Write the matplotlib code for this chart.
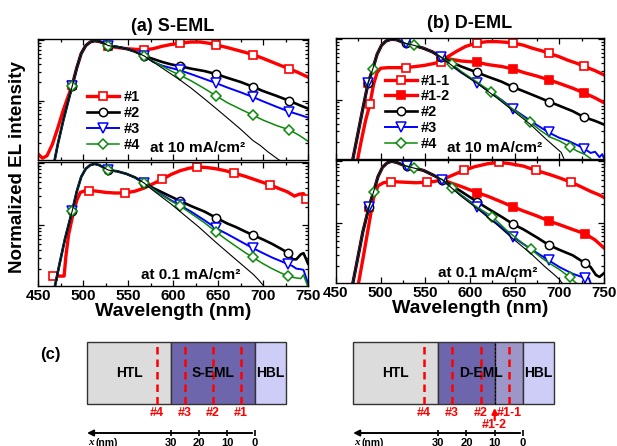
import matplotlib
matplotlib.use('Agg')
import matplotlib.pyplot as plt
from matplotlib.patches import Rectangle
from matplotlib.ticker import MultipleLocator, LogLocator, NullFormatter
import numpy as np

plt.rcParams['font.family'] = ['Liberation Sans', 'DejaVu Sans']
plt.rcParams['font.weight'] = 'bold'

# ---- spectra (log10 of normalized EL) ----
# (a) S-EML, 10 mA/cm2 : shared rising edge + tails
rise_a10_wl = [468, 472, 478, 483, 488, 493, 498, 503, 508, 513, 518, 523, 528, 538, 548, 558, 568]
rise_a10 = [-2.02, -1.72, -1.33, -1.04, -0.76, -0.46, -0.22, -0.09, -0.03, -0.01, -0.02, -0.05, -0.09, -0.11, -0.14, -0.19, -0.26]
a10_s1_wl = [450, 455, 460, 466, 472, 478, 483, 488, 493, 498, 503, 508, 513, 518, 523, 528, 538, 548, 558, 568,
             578, 588, 598, 608, 620, 630, 640, 648, 660, 670, 680, 689, 700, 710, 720, 729, 740, 750]
a10_s1 = [-1.88, -1.95, -1.91, -1.72, -1.45, -1.16, -0.95, -0.74, -0.46, -0.22, -0.09, -0.03, -0.01, -0.02, -0.05, -0.10,
          -0.12, -0.14, -0.15, -0.16, -0.14, -0.10, -0.07, -0.05, -0.03, -0.03, -0.05, -0.08, -0.12, -0.16, -0.20, -0.24,
          -0.30, -0.36, -0.42, -0.47, -0.54, -0.61]
tail_a10_wl = [578, 588, 598, 608, 620, 635, 648, 660, 675, 689, 700, 715, 729, 740, 750]
a10_s2 = [-0.31, -0.36, -0.40, -0.43, -0.47, -0.51, -0.56, -0.62, -0.69, -0.77, -0.84, -0.92, -1.00, -1.07, -1.13]
a10_s3 = [-0.36, -0.42, -0.46, -0.50, -0.56, -0.64, -0.71, -0.78, -0.86, -0.94, -1.01, -1.10, -1.18, -1.23, -1.28]
a10_s4 = [-0.35, -0.43, -0.51, -0.58, -0.67, -0.80, -0.92, -1.03, -1.14, -1.24, -1.32, -1.41, -1.48, -1.57, -1.67]
a10_ref_wl = [578, 588, 598, 608, 620, 635, 648, 660, 675, 689, 697, 705, 716, 722]
a10_ref = [-0.36, -0.46, -0.56, -0.66, -0.79, -0.97, -1.13, -1.28, -1.47, -1.66, -1.74, -1.84, -1.96, -2.02]

# (a) S-EML, 0.1 mA/cm2
rise_a01_wl = [469, 474, 480, 488, 493, 498, 503, 508, 513, 518, 523, 528, 538, 548, 558, 568]
rise_a01 = [-1.97, -1.62, -1.22, -0.77, -0.46, -0.22, -0.09, -0.03, -0.01, -0.03, -0.07, -0.11, -0.13, -0.17, -0.23, -0.32]
a01_s1_wl = [467, 472, 479, 481, 484, 488, 493, 497, 503, 507, 515, 525, 535, 547, 558, 568, 578, 588, 598, 608,
             618, 627, 638, 648, 658, 668, 680, 690, 700, 708, 718, 727, 735, 740, 745, 748, 750]
a01_s1 = [-1.82, -1.82, -1.82, -1.50, -1.15, -0.88, -0.60, -0.47, -0.44, -0.44, -0.45, -0.47, -0.48, -0.48, -0.45, -0.40,
          -0.33, -0.26, -0.18, -0.12, -0.08, -0.06, -0.07, -0.09, -0.12, -0.16, -0.21, -0.26, -0.31, -0.35, -0.41, -0.46,
          -0.53, -0.50, -0.49, -0.58, -0.58]
tail_a01_wl = [578, 588, 598, 608, 620, 635, 648, 660, 670, 680, 689, 700, 710, 720, 728, 733, 737, 742, 745, 748, 750]
a01_s2 = [-0.40, -0.47, -0.54, -0.61, -0.69, -0.78, -0.88, -0.97, -1.03, -1.10, -1.16, -1.23, -1.30, -1.38, -1.45,
          -1.55, -1.55, -1.47, -1.45, -1.55, -1.62]
a01_s3 = [-0.42, -0.51, -0.60, -0.68, -0.78, -0.92, -1.05, -1.14, -1.22, -1.30, -1.37, -1.45, -1.52, -1.58, -1.63,
          -1.66, -1.70, -1.71, -1.72, -1.85, -1.94]
a01_s4 = [-0.42, -0.52, -0.61, -0.69, -0.81, -0.96, -1.11, -1.24, -1.34, -1.44, -1.52, -1.62, -1.70, -1.77, -1.82,
          -1.84, -1.85, -1.86, -1.80, -1.92, -2.00]
a01_ref_wl = [578, 588, 598, 608, 628, 648, 668, 689, 695, 702]
a01_ref = [-0.44, -0.55, -0.66, -0.78, -1.02, -1.28, -1.53, -1.79, -1.88, -2.00]

# (b) D-EML, 10 mA/cm2
rise_b10_wl = [469, 474, 480, 486, 491, 496, 501, 506, 512, 518, 523, 528, 537, 548, 558, 567]
rise_b10 = [-1.97, -1.60, -1.15, -0.72, -0.50, -0.25, -0.10, -0.03, 0.0, -0.01, -0.04, -0.07, -0.10, -0.15, -0.21, -0.29]
b10_s11_wl = [474, 478, 483, 488, 492, 496, 500, 508, 518, 528, 540, 550, 560, 567, 575, 585, 595, 608, 620, 630,
              640, 648, 660, 670, 680, 688, 700, 710, 720, 728, 740, 750]
b10_s11 = [-2.00, -1.70, -1.35, -1.07, -0.75, -0.55, -0.48, -0.47, -0.47, -0.47, -0.45, -0.43, -0.40, -0.37, -0.29,
           -0.20, -0.12, -0.06, -0.04, -0.04, -0.05, -0.06, -0.10, -0.15, -0.19, -0.23, -0.29, -0.35, -0.40, -0.45,
           -0.52, -0.59]
tail_b10_wl = [578, 590, 608, 620, 635, 648, 660, 675, 688, 700, 715, 728, 740, 750]
b10_s12 = [-0.33, -0.36, -0.38, -0.42, -0.45, -0.49, -0.55, -0.61, -0.67, -0.73, -0.81, -0.89, -0.97, -1.05]
b10_s2 = [-0.37, -0.45, -0.55, -0.62, -0.70, -0.79, -0.86, -0.95, -1.03, -1.10, -1.19, -1.29, -1.35, -1.41]
b10_s3_wl = [578, 590, 608, 620, 635, 648, 660, 675, 688, 700, 710, 720, 728, 735, 740, 745, 748, 750]
b10_s3 = [-0.42, -0.55, -0.72, -0.85, -1.00, -1.15, -1.27, -1.42, -1.54, -1.63, -1.68, -1.75, -1.81, -1.88, -1.86,
          -1.95, -1.90, -1.97]
b10_s4_wl = [580, 590, 605, 624, 640, 655, 667, 680, 690, 700, 712, 720, 728, 735]
b10_s4 = [-0.41, -0.53, -0.68, -0.87, -1.07, -1.23, -1.37, -1.52, -1.62, -1.68, -1.78, -1.85, -1.90, -1.97]
b10_ref_wl = [590, 608, 630, 648, 667, 685, 695, 702, 705]
b10_ref = [-0.55, -0.73, -0.97, -1.18, -1.40, -1.65, -1.78, -1.87, -1.97]

# (b) D-EML, 0.1 mA/cm2
rise_b01_wl = [469, 474, 480, 487, 492, 497, 502, 507, 512, 518, 523, 529, 537, 548, 558, 569]
rise_b01 = [-1.97, -1.60, -1.15, -0.74, -0.50, -0.25, -0.10, -0.03, 0.0, -0.02, -0.05, -0.08, -0.11, -0.15, -0.22, -0.30]
b01_s11_wl = [475, 480, 486, 492, 497, 503, 512, 525, 540, 552, 560, 569, 580, 593, 605, 620, 633, 645, 660, 674,
              690, 700, 713, 725, 735, 745, 750]
b01_s11 = [-2.00, -1.60, -1.10, -0.60, -0.40, -0.35, -0.33, -0.34, -0.35, -0.34, -0.33, -0.30, -0.23, -0.15, -0.09,
           -0.04, -0.02, -0.04, -0.08, -0.15, -0.22, -0.27, -0.34, -0.42, -0.49, -0.55, -0.59]
tail_b01_wl = [580, 590, 608, 620, 635, 648, 660, 675, 688, 700, 715, 729, 740, 750]
b01_s12 = [-0.36, -0.41, -0.51, -0.57, -0.66, -0.74, -0.81, -0.89, -0.97, -1.03, -1.11, -1.18, -1.28, -1.41]
b01_s2_wl = [580, 590, 608, 620, 635, 648, 660, 675, 688, 700, 715, 729, 735, 741, 745, 750]
b01_s2 = [-0.40, -0.49, -0.66, -0.77, -0.90, -1.02, -1.11, -1.24, -1.36, -1.44, -1.53, -1.66, -1.72, -1.85, -1.88, -1.82]
b01_s3_wl = [580, 590, 608, 620, 635, 648, 660, 675, 688, 700, 715, 729, 733, 736]
b01_s3 = [-0.44, -0.55, -0.74, -0.90, -1.07, -1.23, -1.35, -1.49, -1.61, -1.72, -1.83, -1.90, -1.90, -2.02]
b01_s4_wl = [580, 590, 605, 625, 640, 655, 668, 680, 690, 700, 712, 718, 722]
b01_s4 = [-0.43, -0.55, -0.72, -0.90, -1.11, -1.29, -1.43, -1.57, -1.67, -1.76, -1.89, -1.97, -2.02]
b01_ref_wl = [590, 608, 630, 648, 668, 685, 694, 700, 705]
b01_ref = [-0.57, -0.77, -1.03, -1.26, -1.50, -1.73, -1.84, -1.92, -2.02]

# ---- device structure (nm from HBL interface) ----
htl_nm = 30
eml_nm = 30
hbl_nm = 11
s_probe_x = [35, 25, 15, 5]
s_probe_lab = ['#4', '#3', '#2', '#1']
d_probe_x = [35, 25, 15, 5]
d_probe_lab = ['#4', '#3', '#2', '#1-1']
d_split_x = 10
axis_ticks = [30, 20, 10, 0]

RED, BLK, BLU, GRN = '#ff0000', '#000000', '#0000ff', '#0a8a0a'
sty = {
    '#1': dict(color=RED, lw=2.4, marker='s', mfc='white', mec=RED, ms=6, mew=1.2),
    '#1-1': dict(color=RED, lw=2.4, marker='s', mfc='white', mec=RED, ms=6, mew=1.2),
    '#1-2': dict(color=RED, lw=2.4, marker='s', mfc=RED, mec=RED, ms=6, mew=1.2),
    '#2': dict(color=BLK, lw=1.9, marker='o', mfc='white', mec=BLK, ms=6, mew=1.1),
    '#3': dict(color=BLU, lw=1.4, marker='v', mfc='white', mec=BLU, ms=7, mew=1.1),
    '#4': dict(color=GRN, lw=1.1, marker='D', mfc='white', mec=GRN, ms=5.5, mew=1.1),
}


def draw(ax, wl, val, name, marks):
    wl = np.asarray(wl)
    idx = [int(np.where(wl == m)[0][0]) for m in marks]
    ax.plot(wl, np.power(10.0, val), markevery=idx, label=name, **sty[name])


def ref(ax, wl, val):
    ax.plot(wl, np.power(10.0, val), color='k', lw=0.8)


fig = plt.figure(figsize=(6.17, 4.46), dpi=100)
W, H = 617.0, 446.0


def box(x0, y0, x1, y1):
    return [x0 / W, 1 - y1 / H, (x1 - x0) / W, (y1 - y0) / H]


ax_a10 = fig.add_axes(box(38, 39, 308, 160))
ax_a01 = fig.add_axes(box(38, 162, 308, 286))
ax_b10 = fig.add_axes(box(336, 38, 604, 159))
ax_b01 = fig.add_axes(box(336, 160, 604, 283))

# (a) 10 mA
draw(ax_a10, a10_s1_wl, a10_s1, '#1', [488, 528, 568, 608, 648, 689, 729])
draw(ax_a10, rise_a10_wl + tail_a10_wl, rise_a10 + a10_s2, '#2', [488, 528, 568, 608, 648, 689, 729])
draw(ax_a10, rise_a10_wl + tail_a10_wl, rise_a10 + a10_s3, '#3', [488, 528, 568, 608, 648, 689, 729])
draw(ax_a10, rise_a10_wl + tail_a10_wl, rise_a10 + a10_s4, '#4', [488, 528, 568, 608, 648, 689, 729])
ref(ax_a10, rise_a10_wl + a10_ref_wl, rise_a10 + a10_ref)

# (a) 0.1 mA
draw(ax_a01, a01_s1_wl, a01_s1, '#1', [467, 507, 547, 588, 627, 668, 708, 748])
draw(ax_a01, rise_a01_wl + tail_a01_wl, rise_a01 + a01_s2, '#2', [488, 528, 568, 608, 648, 689, 728])
draw(ax_a01, rise_a01_wl + tail_a01_wl, rise_a01 + a01_s3, '#3', [488, 528, 568, 608, 648, 689, 728])
draw(ax_a01, rise_a01_wl + tail_a01_wl, rise_a01 + a01_s4, '#4', [488, 528, 568, 608, 648, 689, 728])
ref(ax_a01, rise_a01_wl + a01_ref_wl, rise_a01 + a01_ref)

# (b) 10 mA
draw(ax_b10, b10_s11_wl, b10_s11, '#1-1', [488, 528, 567, 608, 648, 688, 728])
draw(ax_b10, rise_b10_wl + tail_b10_wl, rise_b10 + b10_s12, '#1-2', [486, 567, 608, 648, 688, 728])
draw(ax_b10, rise_b10_wl + tail_b10_wl, rise_b10 + b10_s2, '#2', [486, 528, 567, 608, 648, 688, 728])
draw(ax_b10, rise_b10_wl + b10_s3_wl, rise_b10 + b10_s3, '#3', [486, 528, 567, 608, 648, 688, 728])
draw(ax_b10, rise_b10_wl + b10_s4_wl, rise_b10 + b10_s4, '#4', [491, 537, 580, 624, 667, 712])
ref(ax_b10, rise_b10_wl + b10_ref_wl, rise_b10 + b10_ref)

# (b) 0.1 mA
draw(ax_b01, b01_s11_wl, b01_s11, '#1-1', [512, 552, 593, 633, 674, 713])
draw(ax_b01, rise_b01_wl + tail_b01_wl, rise_b01 + b01_s12, '#1-2', [487, 608, 648, 688, 729])
draw(ax_b01, rise_b01_wl + b01_s2_wl, rise_b01 + b01_s2, '#2', [487, 529, 569, 608, 648, 688, 729])
draw(ax_b01, rise_b01_wl + b01_s3_wl, rise_b01 + b01_s3, '#3', [487, 529, 569, 608, 648, 688, 729])
draw(ax_b01, rise_b01_wl + b01_s4_wl, rise_b01 + b01_s4, '#4', [492, 537, 580, 625, 668, 712])
ref(ax_b01, rise_b01_wl + b01_ref_wl, rise_b01 + b01_ref)

for ax in (ax_a10, ax_a01, ax_b10, ax_b01):
    ax.set_yscale('log')
    ax.set_xlim(450, 750)
    ax.set_ylim(10 ** -1.98, 10 ** 0.02)
    ax.xaxis.set_major_locator(MultipleLocator(50))
    ax.xaxis.set_minor_locator(MultipleLocator(25))
    ax.yaxis.set_major_locator(LogLocator(base=10))
    ax.yaxis.set_minor_locator(LogLocator(base=10, subs=np.arange(2, 10)))
    ax.yaxis.set_major_formatter(NullFormatter())
    ax.yaxis.set_minor_formatter(NullFormatter())
    ax.tick_params(which='both', direction='in', top=True, right=True, width=0.9)
    ax.tick_params(which='major', length=4)
    ax.tick_params(which='minor', length=2)
    ax.tick_params(axis='x', labelsize=11, pad=2)
    for s in ax.spines.values():
        s.set_linewidth(1.0)
for ax in (ax_a10, ax_b10):
    ax.tick_params(axis='x', labelbottom=False)
for ax in (ax_a01, ax_b01):
    ax.set_xlabel('Wavelength (nm)', fontsize=14, fontweight='bold', labelpad=0)

ax_a10.set_title('(a) S-EML', fontsize=13, fontweight='bold', pad=6)
ax_b10.set_title('(b) D-EML', fontsize=13, fontweight='bold', pad=7)

leg_kw = dict(frameon=False, fontsize=10.5, handlelength=2.2, handletextpad=0.3,
              labelspacing=0.12, borderaxespad=0.0, loc='lower left')
ax_a10.legend(bbox_to_anchor=(0.16, 0.02), **leg_kw)
ax_b10.legend(bbox_to_anchor=(0.16, 0.02), **leg_kw)

ax_a10.text(0.415, 0.10, 'at 10 mA/cm²', transform=ax_a10.transAxes, fontsize=11, fontweight='bold', va='center')
ax_b10.text(0.415, 0.09, 'at 10 mA/cm²', transform=ax_b10.transAxes, fontsize=11, fontweight='bold', va='center')
ax_a01.text(0.38, 0.09, 'at 0.1 mA/cm²', transform=ax_a01.transAxes, fontsize=11, fontweight='bold', va='center')
ax_b01.text(0.38, 0.08, 'at 0.1 mA/cm²', transform=ax_b01.transAxes, fontsize=11, fontweight='bold', va='center')

fig.text(18 / W, 1 - 167 / H, 'Normalized EL intensity', rotation=90, ha='center', va='center',
         fontsize=13.5, fontweight='bold')

# ---- (c) device schematics ----
C_HTL, C_EML, C_EML2, C_HBL = '#dcdcdc', '#6e66ad', '#9c97c8', '#cdcdf7'
y_bot, y_top = 0.362, 0.897


def layer(ax, a, b, color):
    ax.add_patch(Rectangle((a, y_bot), b - a, y_top - y_bot, facecolor=color, edgecolor='#333333', lw=1.0))


def schematic(ax, probes, labels, eml_text, split):
    layer(ax, eml_nm, eml_nm + htl_nm, C_HTL)
    if split is None:
        layer(ax, 0, eml_nm, C_EML)
    else:
        layer(ax, split, eml_nm, C_EML)
        layer(ax, 0, split, C_EML2)
        ax.plot([split, split], [y_bot, y_top], color='k', lw=0.8, ls=(0, (2, 1.5)))
    layer(ax, -hbl_nm, 0, C_HBL)
    for xp, lab in zip(probes, labels):
        ax.plot([xp, xp], [y_bot, y_top], color=RED, lw=1.8, ls=(0, (3, 2)))
        ax.text(xp, 0.285, lab, color=RED, fontsize=9, fontweight='bold', ha='center', va='center')
    ax.text(eml_nm + htl_nm / 2, 0.63, 'HTL', fontsize=10, fontweight='bold', ha='center', va='center')
    ax.text(eml_nm / 2, 0.63, eml_text, fontsize=10, fontweight='bold', ha='center', va='center')
    ax.text(-hbl_nm / 2, 0.63, 'HBL', fontsize=10, fontweight='bold', ha='center', va='center')
    # x axis arrow
    ax.annotate('', xy=(eml_nm + htl_nm + 1, 0.112), xytext=(0, 0.112),
                arrowprops=dict(arrowstyle='-|>', color='k', lw=1.4, mutation_scale=9))
    ax.vlines(axis_ticks, 0.085, 0.14, color='k', lw=1.2)
    for t in axis_ticks:
        ax.text(t, 0.03, str(t), fontsize=8, fontweight='bold', ha='center', va='center')
    ax.text(eml_nm + htl_nm - 0.5, 0.03, 'x', fontsize=8, fontweight='bold', style='italic',
            family='Liberation Serif', ha='left', va='center')
    ax.text(eml_nm + htl_nm - 3, 0.03, '(nm)', fontsize=7.5, fontweight='bold', ha='left', va='center')
    ax.set_ylim(0, 1)
    ax.axis('off')


ax_cl = fig.add_axes([60 / W, 0, 240 / W, 116 / H])
ax_cl.set_xlim((255 - 60) / 2.8, (255 - 300) / 2.8)
schematic(ax_cl, s_probe_x, s_probe_lab, 'S-EML', None)

ax_cr = fig.add_axes([320 / W, 0, 290 / W, 116 / H])
ax_cr.set_xlim((523 - 320) / 2.83, (523 - 610) / 2.83)
schematic(ax_cr, d_probe_x, d_probe_lab, 'D-EML', d_split_x)
ax_cr.annotate('', xy=(d_split_x, y_bot - 0.01), xytext=(d_split_x, 0.2),
               arrowprops=dict(arrowstyle='-|>', color=RED, lw=1.6, mutation_scale=8))
ax_cr.text(d_split_x, 0.18, '#1-2', color=RED, fontsize=9, fontweight='bold', ha='center', va='center')

fig.text(50 / W, 1 - 355 / H, '(c)', fontsize=12, fontweight='bold', ha='center', va='center')

fig.savefig('out.png', dpi=100)
